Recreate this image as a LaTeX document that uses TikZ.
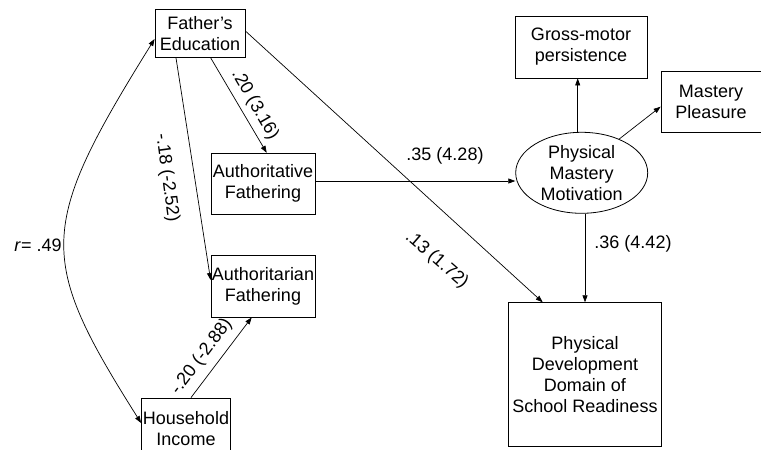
\documentclass[tikz,border=0pt]{standalone}
\usepackage{fontspec}
\setmainfont{Liberation Sans}
\usetikzlibrary{arrows.meta,shapes.geometric}
\begin{document}
\begin{tikzpicture}[x=1pt,y=-1pt,
  every node/.style={font=\fontsize{18}{21}\selectfont},
  box/.style={draw, line width=0.8pt, align=center, inner sep=0pt},
  oval/.style={draw, ellipse, line width=0.8pt, align=center, inner sep=0pt},
  link/.style={line width=0.7pt, -{Triangle[length=7pt,width=5pt]}},
  both/.style={line width=0.7pt, {Triangle[length=7pt,width=5pt]}-{Triangle[length=7pt,width=5pt]}},
  lbl/.style={inner sep=0pt},
]
\useasboundingbox (0,0) rectangle (761,450);

% variables
\node[box, minimum width=90pt, minimum height=48pt] (fe) at (200,33.5) {Father's\\Education};
\node[box, minimum width=104pt, minimum height=61pt] (ative) at (263,183.7) {Authoritative\\Fathering};
\node[box, minimum width=104pt, minimum height=62pt] (arian) at (263,286) {Authoritarian\\Fathering};
\node[box, minimum width=89pt, minimum height=62pt] (hi) at (186,429) {Household\\Income};
\node[box, minimum width=132pt, minimum height=62pt] (gm) at (581,47) {Gross-motor\\persistence};
\node[box, minimum width=100pt, minimum height=61pt] (mp) at (711,101.7) {Mastery\\Pleasure};
\node[oval, minimum width=132pt, minimum height=81pt] (pmm) at (581.7,172.8) {Physical\\Mastery\\Motivation};
\node[box, minimum width=153pt, minimum height=144pt] (pd) at (585,374.7) {Physical\\Development\\Domain of\\School Readiness};

% paths
\draw[link] ([xshift=10.7pt]fe.south) -- ([xshift=3.7pt]ative.north);
\draw[link] ([xshift=-24pt]fe.south) -- ([yshift=6pt]arian.west);
\draw[link] ([xshift=5pt]hi.north) -- ([xshift=-11.3pt]arian.south);
\draw[both] ([yshift=-5.5pt]fe.west) .. controls (37,228) and (37,258) .. ([yshift=6pt]hi.west);
\path ([yshift=2.7pt]ative.east) coordinate (a1);
\draw[link] (a1) -- (a1 -| pmm.west);
\draw[link] ([yshift=2.5pt]fe.east) -- ([xshift=-42.3pt]pd.north);
\draw[link] (pd.north |- pmm.south) -- (pd.north);
\path ([xshift=-4pt]pmm.north) coordinate (g1);
\draw[link] (g1) -- (g1 |- gm.south);
\draw[link] (pmm.42) -- ([yshift=-5pt]mp.west);

% coefficients
\node[lbl, rotate=-60] (l1) at (255,105) {.20 (3.16)};
\node[lbl, rotate=-82.3] (l2) at (167,178) {-.18 (-2.52)};
\node[lbl, rotate=53] (l3) at (201.7,356.7) {-.20 (-2.88)};
\node[lbl] (l4) at (445,156) {.35 (4.28)};
\node[lbl, rotate=-41] (l5) at (436.7,260) {.13 (1.72)};
\node[lbl] (l6) at (633,244) {.36 (4.42)};
\node[lbl] (l7) at (38,245) {\textit{r}= .49};
\end{tikzpicture}
\end{document}
